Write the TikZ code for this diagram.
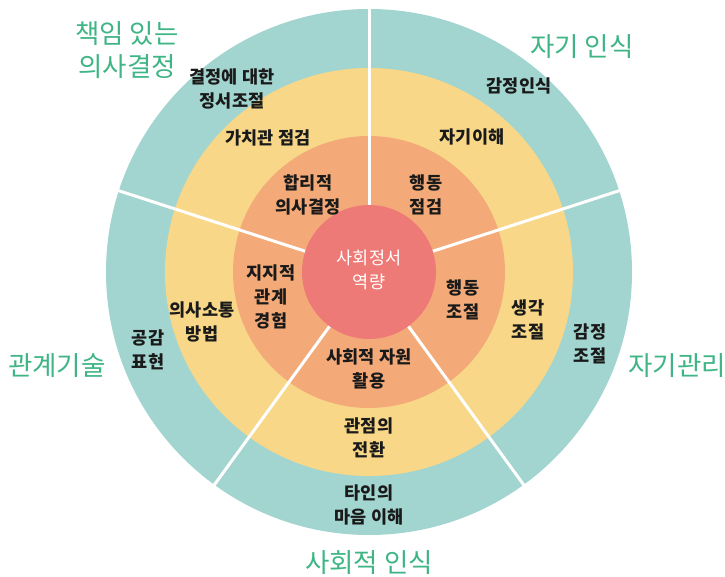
\documentclass[tikz,border=0pt]{standalone}
\usepackage{fontspec}
\newfontfamily\kr{Noto Sans CJK KR}
\definecolor{teal}{HTML}{A2D5CF}
\definecolor{yel}{HTML}{F8D888}
\definecolor{org}{HTML}{F3AA78}
\definecolor{ctr}{HTML}{EE7A78}
\definecolor{grn}{HTML}{3FB585}
\definecolor{ink}{HTML}{1A1A1A}
\tikzset{
  lbl/.style={align=center, inner sep=0pt, text=ink, font=\kr\bfseries\fontsize{17.5}{24}\selectfont},
  corelbl/.style={align=center, inner sep=0pt, text=white, font=\kr\fontsize{17.5}{24}\selectfont},
  ttl/.style={align=center, inner sep=0pt, text=grn, font=\kr\fontsize{26.5}{33}\selectfont},
  divider/.style={draw=white, line width=3pt},
}
\begin{document}
\begin{tikzpicture}[x=1pt,y=-1pt]
\useasboundingbox (0,0) rectangle (725,577);
\coordinate (c) at (369,272);
\fill[teal] (c) circle[radius=263];
\fill[yel] (c) circle[radius=204];
\fill[org] (c) circle[radius=136];
% dividers
\coordinate (a1) at (369,205);   \coordinate (b1) at (369,6);
\coordinate (a2) at (305.3,251.3); \coordinate (b2) at (116,189.8);
\coordinate (a3) at (432.7,251.3); \coordinate (b3) at (622,189.8);
\coordinate (a4) at (329.6,326.2); \coordinate (b4) at (212.6,487.2);
\coordinate (a5) at (408.4,326.2); \coordinate (b5) at (525.4,487.2);
\draw[divider] (a1) -- (b1);
\draw[divider] (a2) -- (b2);
\draw[divider] (a3) -- (b3);
\draw[divider] (a4) -- (b4);
\draw[divider] (a5) -- (b5);
\fill[ctr] (c) circle[radius=67];
% center
\node[corelbl] (core) at (369,270) {사회정서\\역량};
% titles
\node[ttl] (t1) at (127,50) {책임 있는\\의사결정};
\node[ttl] (t2) at (582,47) {자기 인식};
\node[ttl] (t3) at (57,366) {관계기술};
\node[ttl] (t4) at (677,366) {자기관리};
\node[ttl] (t5) at (369,563) {사회적 인식};
% outer ring labels
\node[lbl] (o1) at (232,89) {결정에 대한\\정서조절};
\node[lbl] (o2) at (519,86) {감정인식};
\node[lbl] (o3) at (148,350) {공감\\표현};
\node[lbl] (o4) at (590,344) {감정\\조절};
\node[lbl] (o5) at (369,505) {타인의\\마음 이해};
% middle ring labels
\node[lbl] (m1) at (268,138) {가치관 점검};
\node[lbl] (m2) at (472,137) {자기이해};
\node[lbl] (m3) at (202,322) {의사소통\\방법};
\node[lbl] (m4) at (528,320) {생각\\조절};
\node[lbl] (m5) at (369,438) {관점의\\전환};
% inner ring labels
\node[lbl] (i1) at (308,195) {합리적\\의사결정};
\node[lbl] (i2) at (426,195) {행동\\점검};
\node[lbl] (i3) at (271,297) {지지적\\관계\\경험};
\node[lbl] (i4) at (463,300) {행동\\조절};
\node[lbl] (i5) at (369,369) {사회적 자원\\활용};
\end{tikzpicture}
\end{document}
